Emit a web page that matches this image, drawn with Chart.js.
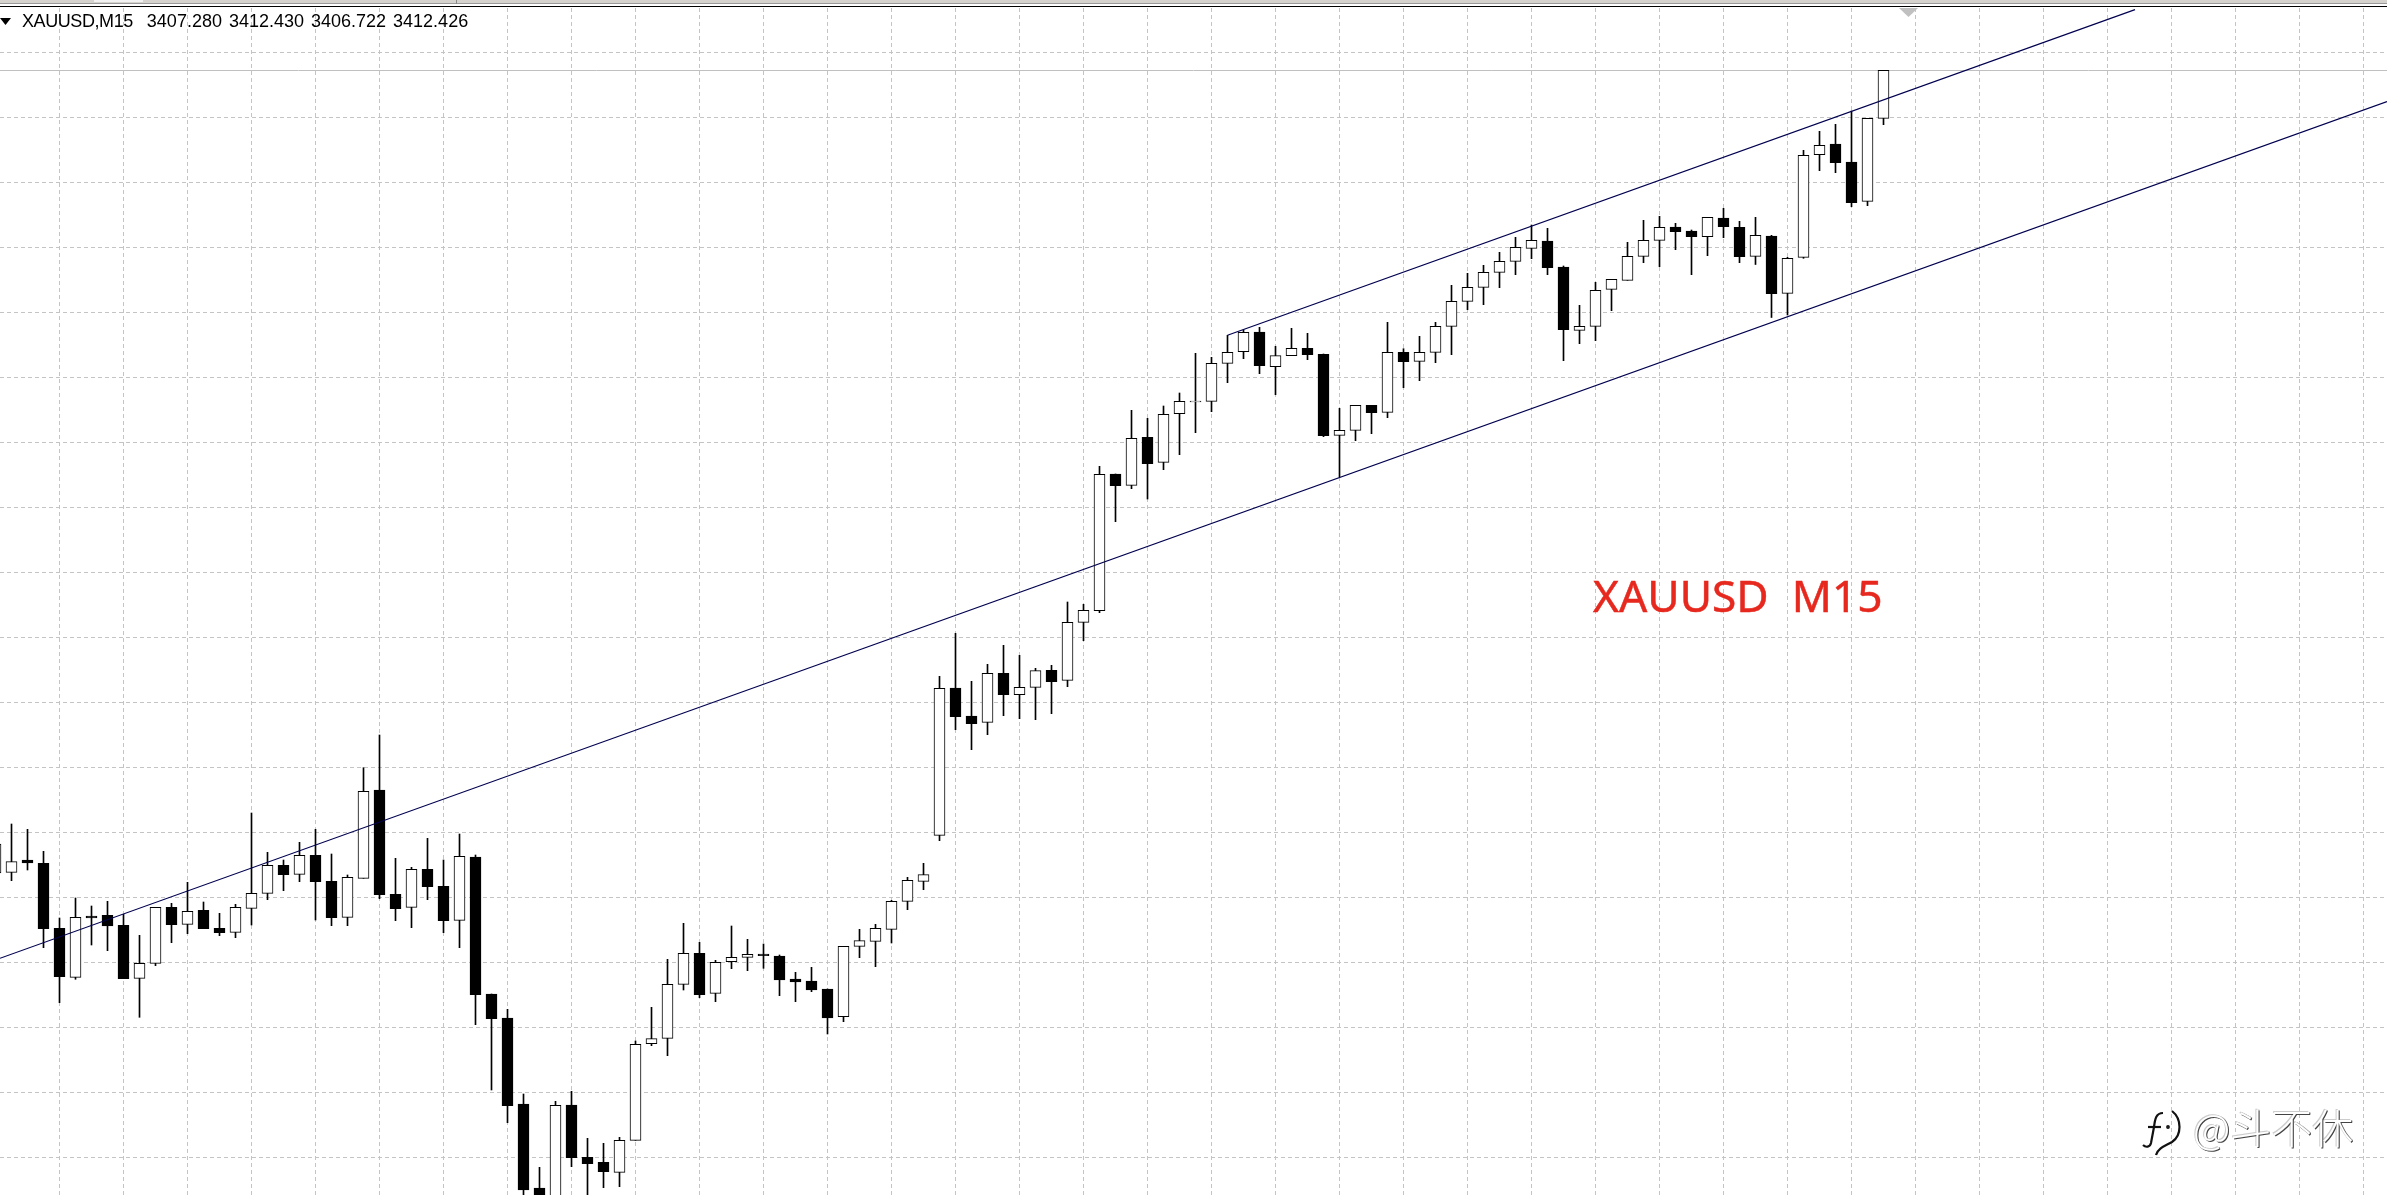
<!DOCTYPE html>
<html>
<head>
<meta charset="utf-8">
<title>XAUUSD M15</title>
<script src="https://cdn.jsdelivr.net/npm/chart.js@4/dist/chart.umd.min.js"></script>
<style>
html,body{margin:0;padding:0;background:#fff;width:2387px;height:1195px;overflow:hidden}
#wrap{position:relative;width:2387px;height:1195px;overflow:hidden}
canvas{position:absolute;left:0;top:0}
.abs{position:absolute}
#band{left:0;top:0;width:2387px;height:3px;background:#d6d3ce}
#band2{left:0;top:3px;width:2387px;height:1px;background:#9a9a9a}
#tab{left:94px;top:0;width:49px;height:2px;background:#f2f2f2}
#sep{left:456px;top:0;width:1px;height:4px;background:#8a8a8a}
#blk{left:0;top:6px;width:2387px;height:1px;background:#000}
#shift{left:1899px;top:8px;width:19px;height:9px;background:#c0c0c0;clip-path:polygon(0 0,100% 0,50% 100%)}
#drop{left:0;top:18px;width:11px;height:7px;background:#000;clip-path:polygon(0 0,100% 0,50% 100%)}
#head{left:22px;top:11px;font:18px/21px "Liberation Sans",sans-serif;color:#000;white-space:pre;word-spacing:2px}
#head span{letter-spacing:-0.42px}
#note{left:1593px;top:565px;font:44.3px/60px "Noto Sans",sans-serif;color:#e6281e;white-space:pre;-webkit-text-stroke:0.5px #e6281e}
#mark{left:2193px;top:1098px;font:41px/56px "Noto Sans CJK SC",sans-serif;font-weight:300;color:#fff;white-space:pre;
 text-shadow:1px 1px 0 #444,-1px -1px 0 #ccc,1px 0 0 #888}
#logo{left:2138px;top:1107px}
</style>
</head>
<body>
<div id="wrap">
<canvas id="c" width="2387" height="1195"></canvas>
<div class="abs" id="band"></div><div class="abs" id="band2"></div><div class="abs" id="tab"></div><div class="abs" id="sep"></div><div class="abs" id="blk"></div>
<div class="abs" id="shift"></div><div class="abs" id="drop"></div>
<div class="abs" id="head"><span>XAUUSD,M15</span>  3407.280 3412.430 3406.722 3412.426</div>
<div class="abs" id="note">XAUUSD  M15</div>
<svg class="abs" id="logo" width="50" height="52" viewBox="0 0 50 52" fill="none" stroke="#111" stroke-width="2.2">
 <path d="M25 6 C18 6 17 12 16 20 L13 36 C12 40 8 41 5 38"/><path d="M10 20 L23 20"/><path d="M34 4 C44 12 44 28 34 35 C27 39 20 41 18 48"/><circle cx="30" cy="20" r="0.8"/>
</svg>
<div class="abs" id="mark">@斗不休</div>
</div>
<script>
const open=[3332.1,3332.17,3333.4,3333.07,3326.57,3321.67,3327.8,3327.87,3326.87,3321.57,3323.07,3328.67,3326.97,3328.37,3326.57,3326.17,3328.57,3330.07,3332.87,3331.97,
3333.87,3331.27,3327.67,3331.57,3340.4,3329.97,3328.67,3332.47,3330.77,3327.37,3333.7,3320.0,3317.6,3309.0,3300.6,3297.9,3308.9,3303.67,3303.17,3302.17,
3305.37,3315.03,3315.57,3320.97,3324.07,3320.07,3323.23,3323.67,3324.0,3323.8,3321.5,3321.3,3320.5,3317.73,3324.77,3325.27,3326.47,3329.27,3331.27,3335.87,
3350.6,3347.8,3347.17,3352.07,3349.93,3350.67,3352.37,3351.37,3357.17,3358.33,3372.0,3370.87,3375.67,3373.17,3378.03,3379.2,3379.27,3383.07,3384.23,3386.2,
3382.73,3383.83,3384.57,3383.97,3375.87,3376.37,3378.87,3378.17,3384.17,3383.27,3384.17,3386.77,3389.27,3390.67,3392.17,3393.27,3394.57,3395.3,3392.7,3386.37,
3386.77,3390.47,3391.37,3393.77,3395.37,3396.7,3396.3,3395.73,3397.6,3396.67,3393.77,3395.8,3390.07,3393.67,3403.93,3405.0,3403.2,3399.27,3407.57];
const high=[3335.0,3337.0,3336.47,3334.27,3327.6,3329.6,3328.8,3329.27,3327.97,3325.87,3328.67,3329.07,3331.17,3329.2,3328.07,3328.97,3338.1,3334.17,3333.4,3335.17,
3336.47,3334.0,3331.9,3342.63,3345.9,3333.57,3332.67,3335.57,3333.4,3336.0,3333.9,3320.0,3318.47,3310.0,3302.67,3309.27,3310.27,3305.57,3305.07,3305.67,
3315.3,3318.67,3323.47,3327.07,3325.17,3323.37,3326.8,3325.47,3325.0,3323.9,3322.17,3322.67,3320.5,3324.77,3326.47,3326.97,3329.37,3331.67,3333.07,3351.77,
3356.07,3351.27,3352.97,3354.87,3353.87,3352.57,3352.87,3359.2,3358.97,3372.77,3372.0,3378.37,3377.57,3378.8,3380.1,3384.07,3383.67,3385.87,3386.4,3386.67,
3384.77,3386.57,3386.07,3384.0,3378.57,3378.87,3378.87,3387.17,3384.53,3385.77,3387.17,3390.87,3392.07,3392.87,3394.17,3395.67,3396.9,3396.57,3392.8,3388.87,
3391.17,3391.47,3395.17,3397.37,3397.77,3397.07,3396.4,3397.67,3398.57,3397.27,3397.67,3395.87,3393.67,3404.37,3406.27,3406.97,3408.3,3407.57,3412.37];
const low=[3332.1,3331.33,3332.4,3324.63,3319.13,3321.47,3324.9,3324.33,3321.53,3317.67,3322.83,3325.13,3326.03,3326.53,3325.83,3325.63,3326.9,3329.43,3330.33,3331.23,
3327.4,3326.83,3326.83,3331.57,3329.53,3327.33,3326.63,3329.43,3326.13,3324.63,3316.93,3310.4,3307.13,3299.7,3298.9,3297.4,3302.73,3299.4,3300.63,3300.73,
3305.37,3314.83,3313.83,3320.4,3319.63,3319.23,3322.53,3322.33,3322.57,3319.83,3319.23,3320.23,3316.0,3317.23,3323.63,3322.73,3325.1,3328.43,3330.43,3335.33,
3346.43,3344.43,3345.93,3347.83,3347.53,3347.43,3348.03,3350.73,3355.33,3358.13,3367.23,3370.53,3369.5,3372.43,3373.93,3376.13,3378.23,3381.13,3383.53,3382.03,
3379.93,3383.83,3383.43,3375.73,3371.7,3375.33,3376.03,3377.63,3380.63,3381.33,3383.13,3383.93,3388.43,3388.93,3390.63,3391.93,3393.53,3391.93,3383.33,3385.03,
3385.33,3388.33,3391.37,3393.13,3392.73,3394.43,3391.93,3393.83,3395.63,3393.13,3392.95,3387.65,3387.9,3393.57,3402.33,3402.13,3398.73,3398.83,3406.93];
const close=[3335.0,3333.23,3333.1,3326.53,3321.73,3327.67,3327.6,3326.8,3321.53,3323.07,3328.67,3326.93,3328.27,3326.53,3326.13,3328.67,3330.07,3332.87,3331.93,3333.87,
3331.23,3327.63,3331.67,3340.27,3329.93,3328.53,3332.47,3330.73,3327.33,3333.77,3319.93,3317.53,3308.83,3300.4,3299.4,3308.87,3303.63,3303.03,3302.23,3305.37,
3314.97,3315.53,3320.97,3324.07,3319.93,3323.17,3323.67,3323.97,3323.83,3321.4,3321.2,3320.4,3317.6,3324.77,3325.33,3326.57,3329.27,3331.37,3331.93,3350.57,
3347.73,3347.03,3352.07,3349.93,3350.67,3352.33,3351.23,3357.17,3358.37,3371.97,3370.83,3375.57,3373.03,3377.97,3379.27,3379.3,3383.07,3384.17,3386.17,3382.83,
3383.83,3384.57,3383.93,3375.83,3376.37,3378.87,3378.13,3384.17,3383.23,3384.17,3386.77,3389.27,3390.67,3392.17,3393.27,3394.67,3395.37,3392.63,3386.43,3386.77,
3390.37,3391.47,3393.77,3395.37,3396.67,3396.23,3395.73,3397.67,3396.73,3393.73,3395.87,3390.03,3393.57,3403.87,3404.87,3403.13,3399.13,3407.57,3412.37];

const gridPrices=[3414.15,3407.65,3401.15,3394.65,3388.15,3381.65,3375.15,3368.65,3362.15,3355.65,3349.15,3342.65,3336.15,3329.65,3323.15,3316.65,3310.15,3303.65];
const gridBars=[4,8,12,16,20,24,28,32,36,40,44,48,52,56,60,64,68,72,76,80,84,88,92,96,100,104,108,112,116,120,124,128,132,136,140,144,148];
const barMin=0.28125, barMax=149.46875, priceMin=3299.9, priceMax=3418.6;
const bidPrice=3412.35;
const channelUpper=[{x:77,y:3385.87},{x:133.72,y:3418.44}];
const channelLower=[{x:0.28125,y:3323.57},{x:149.46875,y:3409.24}];

const bars=open.map((_,i)=>i);
new Chart(document.getElementById('c'),{
  type:'bar',
  data:{datasets:[
    {type:'line',label:'Bid',data:[{x:barMin,y:bidPrice},{x:barMax,y:bidPrice}],borderColor:'#c0c0c0',borderWidth:1,pointRadius:0,order:3},
    {label:'Wick',data:bars.map(i=>({x:i,y:[low[i],high[i]]})),backgroundColor:'#000',borderWidth:0,barThickness:1,grouped:false,order:2},
    {label:'Body',data:bars.map(i=>({x:i,y:[open[i],close[i]]})),
      backgroundColor:ctx=>close[ctx.dataIndex]>=open[ctx.dataIndex]?'#fff':'#000',
      borderColor:'#000',borderWidth:1,borderSkipped:false,barThickness:11,grouped:false,order:1},
    {type:'line',label:'Upper',data:channelUpper,borderColor:'#00004f',borderWidth:1.2,pointRadius:0,order:0},
    {type:'line',label:'Lower',data:channelLower,borderColor:'#00004f',borderWidth:1.2,pointRadius:0,order:0}
  ]},
  options:{
    responsive:false,animation:false,devicePixelRatio:1,
    layout:{padding:{top:8,left:0,right:0,bottom:0}},
    plugins:{legend:{display:false},tooltip:{enabled:false},title:{display:false}},
    events:[],
    scales:{
      x:{type:'linear',min:barMin,max:barMax,offset:false,
        afterBuildTicks:s=>{s.ticks=gridBars.map(v=>({value:v}));},
        ticks:{display:false},
        grid:{color:'#c4c4c4',lineWidth:1,drawTicks:false,offset:false},
        border:{display:false,dash:[4,3]}},
      y:{type:'linear',min:priceMin,max:priceMax,
        afterBuildTicks:s=>{s.ticks=gridPrices.map(v=>({value:v}));},
        ticks:{display:false},
        grid:{color:'#c4c4c4',lineWidth:1,drawTicks:false},
        border:{display:false,dash:[4,3]}}
    }
  }
});
</script>
</body>
</html>
